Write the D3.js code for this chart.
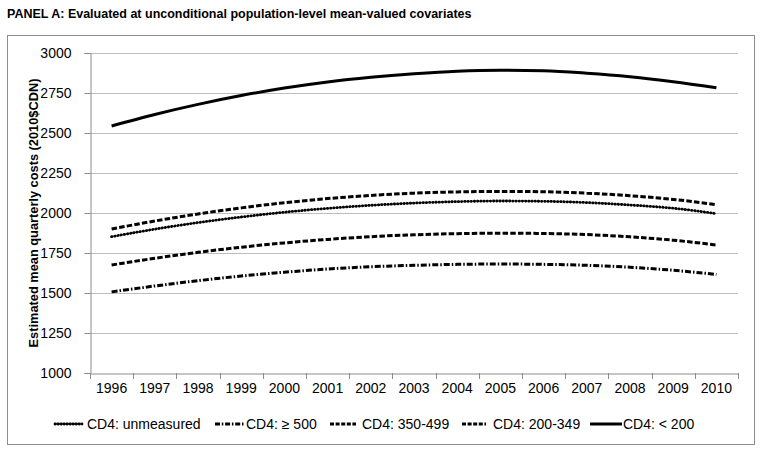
<!DOCTYPE html>
<html><head><meta charset="utf-8">
<script src="https://cdn.jsdelivr.net/npm/d3@7"></script>
<style>body{margin:0;background:#fff;} text{font-family:Arial,"Liberation Sans",sans-serif;}</style>
</head><body><svg id="c" width="763" height="454"></svg>
<script>
const years = ["1996","1997","1998","1999","2000","2001","2002","2003","2004","2005","2006","2007","2008","2009","2010"];
const yTicks = [1000,1250,1500,1750,2000,2250,2500,2750,3000];
const unmeasured = [1852,1899,1940,1975,2005,2029,2048,2062,2071,2075,2073,2065,2050,2030,1996];
const cd4ge500 = [1507,1544,1577,1606,1630,1650,1664,1673,1679,1681,1679,1673,1661,1642,1616];
const cd4_350_499 = [1675,1717,1754,1786,1813,1835,1852,1864,1871,1874,1872,1865,1851,1830,1800];
const cd4_200_349 = [1900,1950,1994,2032,2064,2090,2110,2124,2132,2135,2133,2124,2108,2085,2052];
const cd4lt200 = [2544,2616,2679,2734,2781,2819,2848,2870,2886,2892,2889,2874,2852,2821,2783];
const seriesNames = ["CD4: unmeasured","CD4: \u2265 500","CD4: 350-499","CD4: 200-349","CD4: < 200"];

const series = [
  {name:seriesNames[0], values:unmeasured, dash:"0.4,2.8", cap:"round", w:2.8, ldash:"0.4,2.6"},
  {name:seriesNames[1], values:cd4ge500, dash:"6,2,1.5,2", cap:"butt", w:3, ldash:"5,1.8,1.5,1.8"},
  {name:seriesNames[2], values:cd4_350_499, dash:"5.5,2.2", cap:"butt", w:3, ldash:"4,1.6"},
  {name:seriesNames[3], values:cd4_200_349, dash:"5.5,2.2", cap:"butt", w:3, ldash:"4,1.6"},
  {name:seriesNames[4], values:cd4lt200, dash:null, cap:"butt", w:3, ldash:null}
];

const svg = d3.select("#c");
const L=90, R=738, T=53, B=373;

svg.append("rect").attr("x",7.5).attr("y",35.5).attr("width",747).attr("height",409)
  .attr("fill","none").attr("stroke","#8c8c8c").attr("stroke-width",1);

svg.append("text").attr("x",7).attr("y",18).attr("font-size",12.5).attr("font-weight","bold")
  .attr("fill","#000").text("PANEL A: Evaluated at unconditional population-level mean-valued covariates");

const x = d3.scaleBand().domain(years).range([L,R]);
const y = d3.scaleLinear().domain([1000,3000]).range([B,T]);

// gridlines
svg.append("g").selectAll("line").data(yTicks.filter(v=>v>1000)).join("line")
  .attr("x1",L).attr("x2",R).attr("y1",d=>Math.round(y(d))+0.5).attr("y2",d=>Math.round(y(d))+0.5)
  .attr("stroke","#bdbdbd").attr("stroke-width",1.2);

// y axis
const ya = svg.append("g").attr("transform",`translate(${L+0.5},0)`)
  .call(d3.axisLeft(y).tickValues(yTicks).tickSize(6).tickPadding(13).tickFormat(d3.format("d")));
ya.select(".domain").attr("stroke","#8c8c8c");
ya.selectAll(".tick line").attr("stroke","#8c8c8c");
ya.selectAll("text").attr("font-size",14).attr("fill","#000").style("font-family","Arial, 'Liberation Sans', sans-serif");

// x axis
const xa = svg.append("g").attr("transform",`translate(0,${B+0.5})`)
  .call(d3.axisBottom(x).tickSize(0).tickPadding(10));
xa.select(".domain").attr("stroke","#8c8c8c");
xa.selectAll("text").attr("font-size",14).attr("fill","#000").style("font-family","Arial, 'Liberation Sans', sans-serif");
const bounds = years.map(d=>x(d)).concat([R]);
svg.append("g").selectAll("line").data(bounds).join("line")
  .attr("x1",d=>Math.round(d)+0.5).attr("x2",d=>Math.round(d)+0.5).attr("y1",B).attr("y2",B+6)
  .attr("stroke","#8c8c8c");

svg.append("text").attr("transform","translate(38,213) rotate(-90)").attr("text-anchor","middle")
  .attr("font-size",12.8).attr("font-weight","bold").attr("fill","#000")
  .text("Estimated mean quarterly costs (2010$CDN)");

const line = d3.line().x((d,i)=>x(years[i])+x.bandwidth()/2).y(d=>y(d)).curve(d3.curveMonotoneX);
svg.append("g").selectAll("path").data(series).join("path")
  .attr("d",d=>line(d.values)).attr("fill","none").attr("stroke","#000")
  .attr("stroke-width",d=>d.w).attr("stroke-dasharray",d=>d.dash).attr("stroke-linecap",d=>d.cap);

// legend
const lx = [55,215,330,462,590];
const lw = [27,30,26,24,32];
const gap = [5,1,6,7,1];
const lg = svg.append("g");
series.forEach((s,i)=>{
  lg.append("line").attr("x1",lx[i]).attr("x2",lx[i]+lw[i]).attr("y1",424).attr("y2",424)
    .attr("stroke","#000").attr("stroke-width",s.w).attr("stroke-dasharray",s.ldash).attr("stroke-linecap",s.cap);
  lg.append("text").attr("x",lx[i]+lw[i]+gap[i]).attr("y",429).attr("font-size",14).attr("fill","#000").text(s.name);
});
</script></body></html>
